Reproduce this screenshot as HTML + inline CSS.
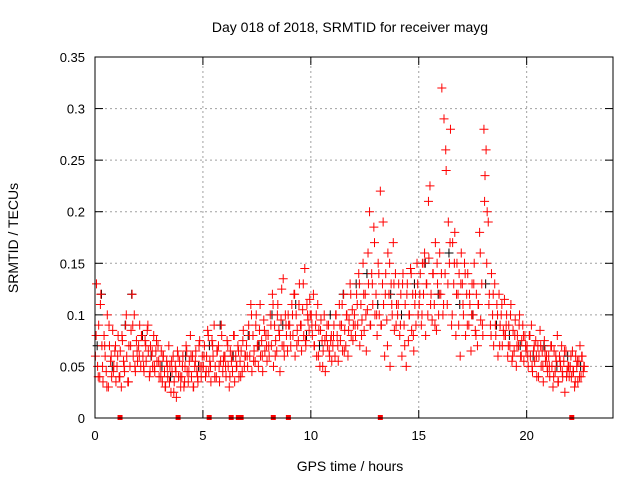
<!DOCTYPE html>
<html><head><meta charset="utf-8"><style>
body{margin:0;background:#fff;}
svg text{font-family:"Liberation Sans",sans-serif;font-size:13px;fill:#000;}
</style></head><body>
<svg id="chart" width="640" height="480" xmlns="http://www.w3.org/2000/svg">
<text x="350" y="32" text-anchor="middle" style="font-size:14px">Day 018 of 2018, SRMTID for receiver mayg</text>
<text transform="translate(18,238) rotate(-90)" text-anchor="middle" style="font-size:14px">SRMTID / TECUs</text>
<text x="350" y="471" text-anchor="middle" style="font-size:14px">GPS time / hours</text>
<g id="grid"></g>
<g id="axes"></g>
<g id="marks"></g>
<rect x="95" y="57" width="518" height="361" fill="none" stroke="#000" stroke-width="1"/>
</svg>
<script>
const xTicks=[0,5,10,15,20];
const yTicks=[0,0.05,0.1,0.15,0.2,0.25,0.3,0.35];
const yTickLabels=["0","0.05","0.1","0.15","0.2","0.25","0.3","0.35"];
const lossT=[1.16,3.85,5.29,6.31,6.64,6.77,8.26,8.96,13.22,22.09];
const redV=[
.06,.13,.05,.09,.04,.12,.07,.035,.08,.06,.045,.10,.03,.07,.055,.04,.085,.05,.065,.035,
.05,.08,.04,.065,.03,.075,.055,.045,.09,.06,.035,.07,.05,.085,.12,.06,.10,.045,.075,.055,
.07,.09,.05,.08,.06,.045,.075,.055,.085,.065,.04,.07,.06,.05,.08,.045,.065,.055,.07,.04,
.05,.065,.035,.06,.045,.03,.055,.04,.07,.05,.025,.045,.06,.035,.05,.02,.065,.04,.055,.03,
.04,.06,.03,.05,.07,.045,.035,.055,.08,.04,.06,.03,.05,.065,.045,.035,.07,.05,.04,.06,
.05,.07,.04,.06,.085,.045,.055,.035,.075,.06,.09,.05,.04,.065,.07,.035,.055,.08,.045,.06,
.06,.04,.075,.05,.03,.065,.055,.045,.08,.035,.06,.05,.07,.04,.055,.065,.045,.085,.05,.06,
.07,.05,.09,.06,.11,.045,.08,.065,.055,.1,.07,.05,.085,.06,.075,.045,.095,.065,.08,.055,
.08,.06,.1,.07,.12,.05,.09,.075,.065,.11,.085,.045,.095,.07,.135,.06,.1,.08,.065,.09,
.09,.07,.11,.08,.12,.06,.1,.085,.075,.13,.09,.065,.105,.08,.145,.07,.11,.095,.085,.1,
.1,.08,.12,.07,.09,.06,.11,.085,.05,.095,.075,.065,.1,.045,.08,.07,.09,.06,.075,.055,
.07,.09,.06,.1,.08,.055,.11,.075,.09,.065,.12,.085,.07,.1,.06,.095,.13,.08,.105,.09,
.1,.08,.12,.09,.14,.07,.11,.095,.15,.085,.12,.065,.105,.13,.2,.09,.14,.11,.185,.1,
.12,.08,.15,.1,.22,.09,.13,.11,.06,.14,.095,.16,.12,.05,.13,.1,.17,.085,.14,.11,
.1,.13,.08,.12,.06,.14,.09,.11,.05,.13,.075,.1,.145,.085,.12,.065,.11,.09,.15,.1,
.11,.14,.09,.15,.12,.16,.08,.13,.1,.155,.225,.12,.095,.14,.11,.17,.085,.13,.1,.16,
.12,.32,.1,.29,.14,.24,.11,.19,.15,.28,.09,.17,.13,.18,.08,.15,.12,.14,.06,.16,
.13,.1,.15,.08,.12,.14,.09,.11,.065,.13,.1,.15,.085,.12,.07,.11,.18,.095,.13,.08,
.28,.235,.26,.2,.19,.12,.09,.14,.1,.07,.13,.08,.11,.06,.12,.09,.1,.07,.085,.115,
.08,.1,.06,.09,.07,.11,.055,.085,.065,.095,.05,.08,.07,.1,.06,.075,.09,.055,.08,.065,
.07,.05,.08,.06,.09,.045,.065,.055,.075,.04,.07,.06,.085,.05,.065,.035,.075,.055,.06,.045,
.06,.04,.07,.05,.03,.065,.045,.055,.08,.035,.06,.05,.07,.04,.055,.025,.065,.045,.05,.04,
.05,.04,.065,.045,.03,.06,.05,.035,.055,.07,.04,.06,.045,.05];
const redV2=[
.08,.04,.11,.05,.07,.03,.09,.06,.045,.07,
.06,.04,.08,.05,.1,.035,.07,.09,.05,.065,
.06,.08,.05,.07,.09,.045,.065,.05,.075,.055,
.04,.06,.03,.05,.035,.055,.025,.045,.06,.04,
.05,.035,.065,.045,.06,.03,.055,.04,.075,.05,
.06,.045,.08,.05,.07,.04,.065,.05,.09,.055,
.05,.07,.04,.06,.08,.05,.065,.04,.075,.06,
.06,.08,.1,.055,.09,.07,.11,.06,.085,.07,
.07,.09,.11,.06,.1,.08,.125,.07,.09,.1,
.08,.1,.12,.07,.11,.09,.13,.075,.1,.115,
.09,.07,.1,.06,.085,.05,.075,.09,.065,.08,
.08,.1,.07,.09,.11,.065,.1,.085,.12,.075,
.09,.11,.13,.08,.12,.1,.16,.09,.13,.17,
.1,.14,.09,.19,.12,.07,.15,.11,.13,.09,
.11,.09,.13,.07,.12,.1,.14,.08,.12,.13,
.12,.1,.15,.13,.21,.11,.14,.09,.15,.12,
.14,.11,.26,.13,.17,.1,.15,.12,.09,.13,
.11,.14,.09,.12,.1,.13,.08,.11,.16,.09,
.21,.15,.11,.08,.12,.09,.1,.07,.11,.08,
.09,.07,.1,.06,.08,.07,.09,.06,.08,.07,
.06,.08,.05,.07,.06,.04,.07,.05,.065,.05,
.05,.07,.04,.06,.035,.055,.045,.065,.04,.05,
.06,.045,.035,.055,.04,.06,.05];
const redHourOffsets=[.02,.07,.12,.17,.22,.27,.32,.37,.42,.47,.52,.57,.62,.67,.72,.77,.82,.87,.92,.97];
const redHourOffsets2=[.05,.15,.25,.35,.45,.55,.65,.75,.85,.95];
const blackT=[0.1,0.3,0.8,1.4,1.7,2.2,2.6,3.1,3.5,4.2,4.8,5.3,5.8,6.4,7.1,7.6,8.2,8.7,9.3,9.8,10.4,10.9,11.5,12.1,12.6,13.1,13.7,14.2,14.8,15.3,15.9,16.4,16.9,17.5,18.1,18.6,19.2,19.7,20.3,20.8,21.4,21.9,22.5];
const blackV=[0.07,0.12,0.05,0.09,0.12,0.08,0.06,0.05,0.04,0.06,0.05,0.07,0.09,0.06,0.08,0.07,0.1,0.09,0.11,0.08,0.07,0.1,0.12,0.13,0.14,0.11,0.12,0.1,0.13,0.15,0.12,0.16,0.11,0.1,0.13,0.09,0.08,0.07,0.06,0.07,0.05,0.06,0.05];
const redT=redV.map((v,i)=>Math.floor(i/20)+redHourOffsets[i%20]);
const redT2=redV2.map((v,i)=>Math.floor(i/10)+redHourOffsets2[i%10]);

const X0=95,X1=613,Y0=418,Y1=57,XMAX=24,YMAX=0.35;
const sx=t=>X0+(X1-X0)*t/XMAX;
const sy=v=>Y0-(Y0-Y1)*v/YMAX;
const NS="http://www.w3.org/2000/svg";
const grid=document.getElementById('grid'),axes=document.getElementById('axes'),marks=document.getElementById('marks');
function mk(tag,attrs,parent){const e=document.createElementNS(NS,tag);for(const k in attrs)e.setAttribute(k,attrs[k]);parent.appendChild(e);return e;}
yTicks.forEach((v,i)=>{
  const y=sy(v);
  if(i>0&&i<yTicks.length-1){const g=mk('line',{x1:X0,x2:X1,y1:y,y2:y,stroke:'#a0a0a0','stroke-dasharray':'2,3'},grid);
  
  }
  mk('line',{x1:X0,x2:X0+8,y1:y,y2:y,stroke:'#000'},axes);
  mk('line',{x1:X1-8,x2:X1,y1:y,y2:y,stroke:'#000'},axes);
  const t=mk('text',{x:X0-10,y:y+5,'text-anchor':'end'},axes);t.textContent=yTickLabels[i];
  
  
});
xTicks.forEach(v=>{
  const x=sx(v);
  if(v>0){const g=mk('line',{x1:x,x2:x,y1:Y0,y2:Y1,stroke:'#a0a0a0','stroke-dasharray':'2,3'},grid);
  
  }
  mk('line',{x1:x,x2:x,y1:Y0,y2:Y0-8,stroke:'#000'},axes);
  mk('line',{x1:x,x2:x,y1:Y1,y2:Y1+8,stroke:'#000'},axes);
  const t=mk('text',{x:x,y:Y0+22,'text-anchor':'middle'},axes);t.textContent=String(v);
  
  
});
function plus(t,v,color,name){
  const x=sx(t),y=sy(v);
  const p=mk('path',{d:`M${x-4.5},${y}H${x+4.5}M${x},${y-4.5}V${y+4.5}`,stroke:color,'stroke-width':1,fill:'none'},marks);
  
  
}
blackT.forEach((t,i)=>plus(t,blackV[i],'#000','black-point'));
redT.forEach((t,i)=>plus(t,redV[i],'#f00','red-point'));
redT2.forEach((t,i)=>plus(t,redV2[i],'#f00','red-point'));
lossT.forEach(t=>{
  const r=mk('rect',{x:sx(t)-2.5,y:Y0-3,width:5,height:5,fill:'#f00'},marks);
  
  
});
</script>
</body></html>
